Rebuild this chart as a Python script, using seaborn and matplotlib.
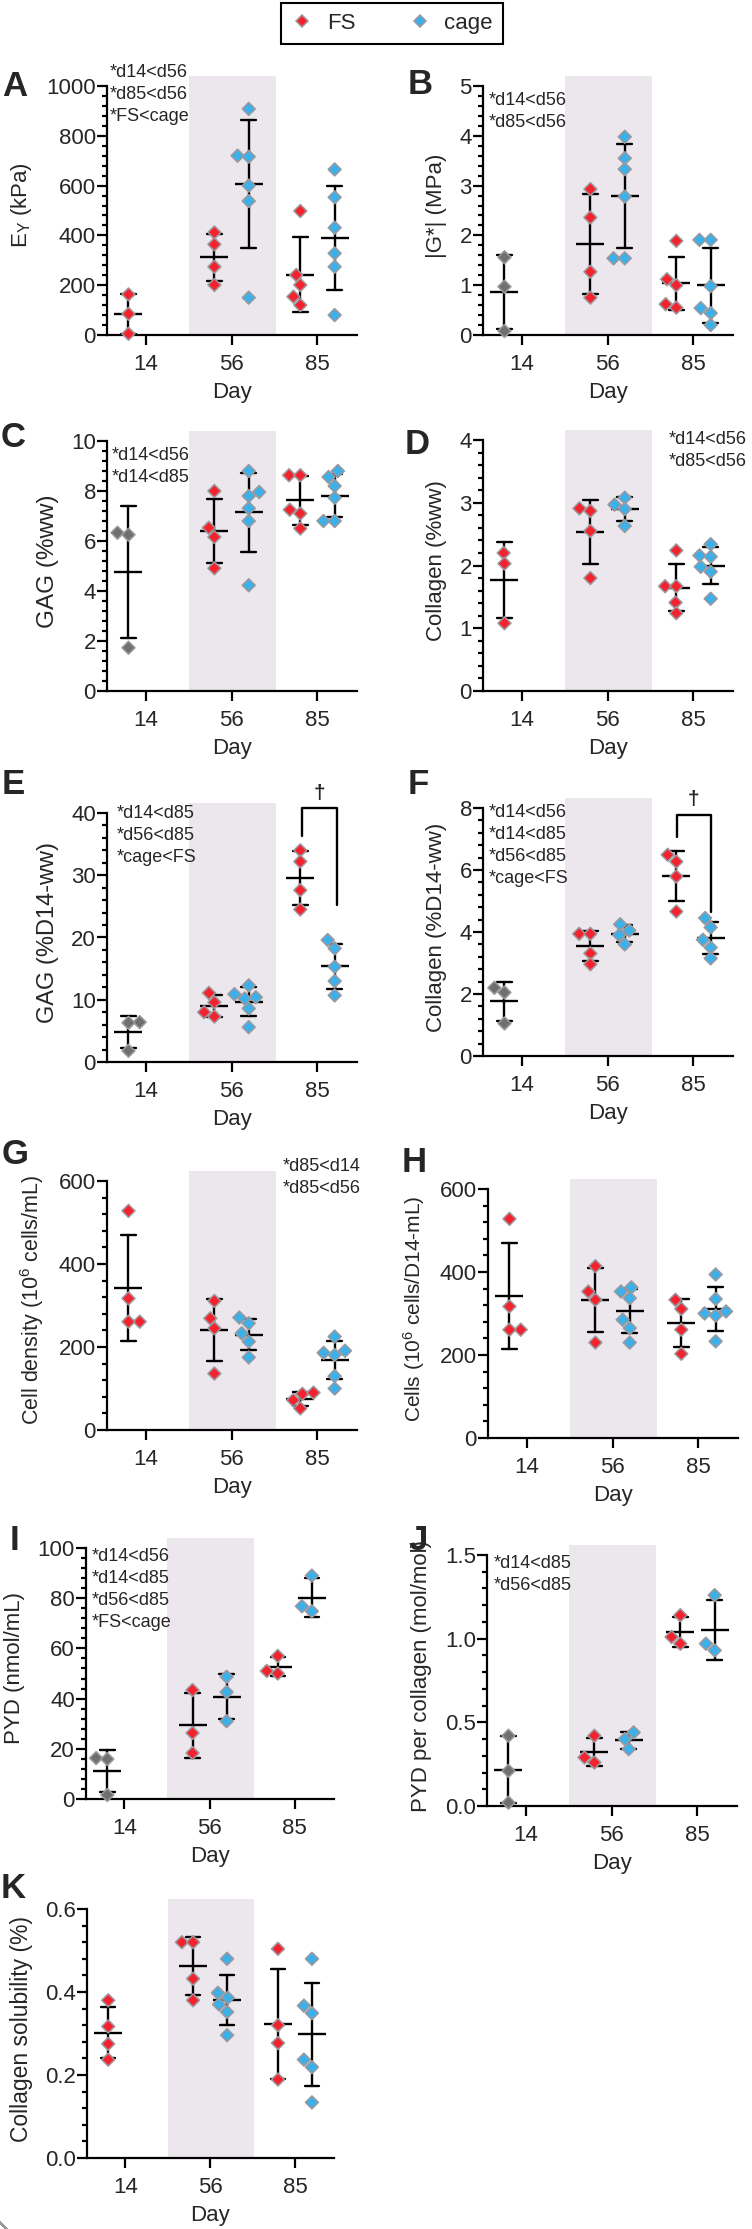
import numpy as np
import pandas as pd
import matplotlib
matplotlib.use("Agg")
import matplotlib.pyplot as plt
import matplotlib.ticker as mticker
from matplotlib.lines import Line2D
import seaborn as sns

# ---- data ----
days = ["14", "56", "85"]
groups = ["FS", "cage"]

# A - E_Y (kPa)
ey_d14 = [5, 163, 85]
ey_fs56 = [412, 364, 274, 201]
ey_cage56 = [908, 720, 716, 600, 538, 150]
ey_fs85 = [498, 241, 201, 154, 120]
ey_cage85 = [665, 553, 431, 328, 274, 80]

# B - |G*| (MPa)
g_d14 = [1.56, 0.97, 0.08]
g_fs56 = [2.93, 2.36, 1.27, 0.75]
g_cage56 = [3.98, 3.55, 3.33, 2.78, 1.54, 1.54]
g_fs85 = [1.89, 1.12, 1.0, 0.62, 0.55]
g_cage85 = [1.91, 1.91, 0.98, 0.54, 0.44, 0.2]

# C - GAG (%ww)
gag_d14 = [6.33, 6.25, 1.73]
gag_fs56 = [8.0, 6.53, 6.16, 4.91]
gag_cage56 = [8.8, 7.96, 7.8, 7.31, 6.8, 4.23]
gag_fs85 = [8.63, 8.63, 7.25, 7.1, 6.5]
gag_cage85 = [8.8, 8.56, 8.2, 7.73, 6.8, 6.8]

# D - Collagen (%ww)
col_d14 = [2.2, 2.03, 1.08]
col_fs56 = [2.87, 2.91, 2.55, 1.8]
col_cage56 = [3.08, 2.97, 2.9, 2.63]
col_fs85 = [2.24, 1.67, 1.67, 1.41, 1.24]
col_cage85 = [2.34, 2.16, 2.14, 1.98, 1.9, 1.47]

# E - GAG (%D14-ww)
gagn_d14 = [6.4, 6.3, 1.8]
gagn_fs56 = [11.1, 9.6, 8.0, 7.3]
gagn_cage56 = [12.3, 10.9, 10.4, 10.2, 8.6, 5.6]
gagn_fs85 = [34.0, 32.2, 27.6, 24.5]
gagn_cage85 = [19.6, 18.25, 15.3, 13.0, 10.7]

# F - Collagen (%D14-ww)
coln_d14 = [2.2, 2.05, 1.05]
coln_fs56 = [3.94, 3.94, 3.31, 2.96]
coln_cage56 = [4.25, 4.05, 3.9, 3.6]
coln_fs85 = [6.49, 6.27, 5.79, 4.66]
coln_cage85 = [4.45, 4.15, 3.75, 3.5, 3.15]

# G - cell density (10^6 cells/mL)
cd_d14 = [528, 317, 261, 261]
cd_fs56 = [311, 269, 245, 136]
cd_cage56 = [271, 257, 233, 213, 175]
cd_fs85 = [87, 90, 72, 52]
cd_cage85 = [225, 191, 186, 181, 130, 100]

# H - cells (10^6 cells/D14-mL)
cn_d14 = [528, 317, 261, 261]
cn_fs56 = [414, 353, 333, 230]
cn_cage56 = [363, 353, 337, 285, 265, 230]
cn_fs85 = [333, 311, 261, 203]
cn_cage85 = [394, 335, 305, 300, 295, 233]

# I - PYD (nmol/mL)
pyd_d14 = [16.3, 15.9, 1.6]
pyd_fs56 = [43.4, 26.3, 18.3]
pyd_cage56 = [48.7, 42.6, 31.0]
pyd_fs85 = [57.0, 51.0, 50.0]
pyd_cage85 = [89.0, 76.8, 74.8]

# J - PYD per collagen (mol/mol)
pc_d14 = [0.42, 0.21, 0.02]
pc_fs56 = [0.42, 0.29, 0.26]
pc_cage56 = [0.44, 0.40, 0.34]
pc_fs85 = [1.14, 1.01, 0.97]
pc_cage85 = [1.26, 0.97, 0.93]

# K - collagen solubility (%)
sol_d14 = [0.38, 0.317, 0.275, 0.237]
sol_fs56 = [0.52, 0.52, 0.432, 0.38]
sol_cage56 = [0.48, 0.398, 0.386, 0.37, 0.352, 0.296]
sol_fs85 = [0.504, 0.32, 0.277, 0.189]
sol_cage85 = [0.48, 0.367, 0.349, 0.237, 0.219, 0.134]

# ---- style ----
sns.set_style("ticks")
plt.rcParams["font.family"] = ["Liberation Sans", "DejaVu Sans"]
plt.rcParams["mathtext.fontset"] = "custom"
plt.rcParams["mathtext.rm"] = "Liberation Sans"
plt.rcParams["mathtext.it"] = "Liberation Sans:italic"
plt.rcParams["mathtext.bf"] = "Liberation Sans:bold"

red = "#f2232f"
blue = "#3cb0e9"
grey = "#6f6f6f"
edge = "#9d989c"
shade = "#ebe7ed"
W, H = 752, 2229


def tidy(d14, fs56, cage56, fs85, cage85):
    parts = [("14", "FS", d14), ("56", "FS", fs56), ("56", "cage", cage56),
             ("85", "FS", fs85), ("85", "cage", cage85)]
    rows = [(d, g, v) for d, g, vals in parts for v in vals]
    return pd.DataFrame(rows, columns=["day", "group", "value"])


panels = [
    dict(letter="A", df=tidy(ey_d14, ey_fs56, ey_cage56, ey_fs85, ey_cage85),
         ylabel=r"E$_\mathregular{Y}$ (kPa)", ymax=1000, major=200, minor=40, fmt="%d", c14=red,
         box=(107, 357, 86, 335), tag=(2, 87), note="*d14<d56\n*d85<d56\n*FS<cage", note_at=(110, 64), ysize=16),
    dict(letter="B", df=tidy(g_d14, g_fs56, g_cage56, g_fs85, g_cage85),
         ylabel="|G*| (MPa)", ymax=5, major=1, minor=0.2, fmt="%d", c14=grey,
         box=(483, 733, 86, 335), tag=(408, 85), note="*d14<d56\n*d85<d56", note_at=(489, 92), ysize=16),
    dict(letter="C", df=tidy(gag_d14, gag_fs56, gag_cage56, gag_fs85, gag_cage85),
         ylabel="GAG (%ww)", ymax=10, major=2, minor=0.4, fmt="%d", c14=grey,
         box=(107, 357, 441, 691), tag=(1, 437), note="*d14<d56\n*d14<d85", note_at=(112, 447), ysize=17.5),
    dict(letter="D", df=tidy(col_d14, col_fs56, col_cage56, col_fs85, col_cage85),
         ylabel="Collagen (%ww)", ymax=4, major=1, minor=0.2, fmt="%d", c14=red,
         box=(483, 733, 440, 691), tag=(405, 445), note="*d14<d56\n*d85<d56", note_at=(669, 431), ysize=16),
    dict(letter="E", df=tidy(gagn_d14, gagn_fs56, gagn_cage56, gagn_fs85, gagn_cage85),
         ylabel="GAG (%D14-ww)", ymax=40, major=10, minor=2, fmt="%d", c14=grey,
         box=(107, 357, 813, 1062), tag=(2, 785), note="*d14<d85\n*d56<d85\n*cage<FS", note_at=(117, 805), ysize=17,
         bracket=((1.82, 2.23), (36.3, 40.8, 25.2)), dagger=43.2),
    dict(letter="F", df=tidy(coln_d14, coln_fs56, coln_cage56, coln_fs85, coln_cage85),
         ylabel="Collagen (%D14-ww)", ymax=8, major=2, minor=0.4, fmt="%d", c14=grey,
         box=(483, 733, 808, 1056), tag=(408, 784), note="*d14<d56\n*d14<d85\n*d56<d85\n*cage<FS",
         note_at=(489, 804), ysize=16, bracket=((1.81, 2.2), (7.08, 7.78, 4.65)), dagger=8.27),
    dict(letter="G", df=tidy(cd_d14, cd_fs56, cd_cage56, cd_fs85, cd_cage85),
         ylabel=r"Cell density (10$^\mathregular{6}$ cells/mL)", ymax=600, major=200, minor=40, fmt="%d", c14=red,
         box=(107, 357, 1181, 1430), tag=(2, 1155), note="*d85<d14\n*d85<d56", note_at=(283, 1158), ysize=15.5),
    dict(letter="H", df=tidy(cn_d14, cn_fs56, cn_cage56, cn_fs85, cn_cage85),
         ylabel=r"Cells (10$^\mathregular{6}$ cells/D14-mL)", ymax=600, major=200, minor=40, fmt="%d", c14=red,
         box=(488, 738, 1189, 1438), tag=(402, 1162), note=None, note_at=None, ysize=15),
    dict(letter="I", df=tidy(pyd_d14, pyd_fs56, pyd_cage56, pyd_fs85, pyd_cage85),
         ylabel="PYD (nmol/mL)", ymax=100, major=20, minor=4, fmt="%d", c14=grey,
         box=(86, 334, 1548, 1799), tag=(10, 1540), note="*d14<d56\n*d14<d85\n*d56<d85\n*FS<cage",
         note_at=(92, 1548), ysize=16),
    dict(letter="J", df=tidy(pc_d14, pc_fs56, pc_cage56, pc_fs85, pc_cage85),
         ylabel="PYD per collagen (mol/mol)", ymax=1.5, major=0.5, minor=0.1, fmt="%.1f", c14=grey,
         box=(487, 737, 1555, 1806), tag=(408, 1540), note="*d14<d85\n*d56<d85", note_at=(494, 1555), ysize=16),
    dict(letter="K", df=tidy(sol_d14, sol_fs56, sol_cage56, sol_fs85, sol_cage85),
         ylabel="Collagen solubility (%)", ymax=0.6, major=0.2, minor=0.04, fmt="%.1f", c14=red,
         box=(87, 334, 1909, 2158), tag=(1, 1888), note=None, note_at=None, ysize=16.5),
]

fig = plt.figure(figsize=(W / 100, H / 100), dpi=100)

for p in panels:
    L, R, top, bottom = p["box"]
    ax = fig.add_axes([L / W, 1 - bottom / H, (R - L) / W, (bottom - top + 10) / H])
    ax.axvspan(0.5, 1.52, color=shade, lw=0, zorder=0)

    df = p["df"]
    kw = dict(x="day", y="value", hue="group", order=days, hue_order=groups, dodge=True,
              marker="D", size=6.6, edgecolor=edge, linewidth=1.1, legend=False, ax=ax, clip_on=False)
    sns.swarmplot(data=df[df["day"] == "14"], palette={"FS": p["c14"], "cage": p["c14"]}, **kw)
    sns.swarmplot(data=df[df["day"] != "14"], palette={"FS": red, "cage": blue}, **kw)

    # mean +/- SD
    sns.pointplot(data=df, x="day", y="value", hue="group", order=days, hue_order=groups,
                  palette={"FS": "black", "cage": "black"}, dodge=0.4, errorbar="sd", capsize=0.17,
                  markers="_", linestyles="none", markersize=20, markeredgewidth=1.7, linewidth=1.7,
                  err_kws={"linewidth": 1.7}, legend=False, ax=ax)

    ymax = p["ymax"]
    ax.set_xlim(-0.45, 2.46)
    ax.set_ylim(0, ymax * (bottom - top + 10) / (bottom - top))
    ax.set_yticks(np.linspace(0, ymax, round(ymax / p["major"]) + 1))
    ax.set_yticks(np.linspace(0, ymax, round(ymax / p["minor"]) + 1), minor=True)
    ax.yaxis.set_major_formatter(mticker.FormatStrFormatter(p["fmt"]))
    ax.set_xticks(range(3), days)
    sns.despine(ax=ax)
    ax.spines["left"].set_bounds(0, ymax)
    for s in ("left", "bottom"):
        ax.spines[s].set_linewidth(1.6)
        ax.spines[s].set_color("black")
    ax.tick_params(which="major", length=7, width=1.6, labelsize=16, color="black")
    ax.tick_params(which="minor", length=3.6, width=1.6, color="black")
    ax.tick_params(axis="y", pad=1)
    ax.tick_params(axis="x", pad=7)
    ax.set_xlabel("Day", fontsize=16, labelpad=5)
    ax.set_ylabel(p["ylabel"], fontsize=p["ysize"], labelpad=9)

    if "bracket" in p:
        (x1, x2), (yl, yt, yr) = p["bracket"]
        ax.plot([x1, x1, x2, x2], [yl, yt, yt, yr], color="black", lw=1.7, clip_on=False)
        ax.text((x1 + x2) / 2, p["dagger"], "\u2020", ha="center", va="center",
                fontsize=15, fontweight="bold", clip_on=False)

    if p["note"]:
        nx, ny = p["note_at"]
        fig.text(nx / W, 1 - ny / H, p["note"], ha="left", va="top", fontsize=13, linespacing=1.38)
    tx, ty = p["tag"]
    fig.text(tx / W, 1 - ty / H, p["letter"], ha="left", va="center", fontsize=25, fontweight="bold")

handles = [Line2D([], [], marker="D", ls="", markersize=6.6, markerfacecolor=c,
                  markeredgecolor=edge, markeredgewidth=1.1) for c in (red, blue)]
leg = fig.legend(handles, groups, loc="upper center", bbox_to_anchor=(392 / W, 1 - 3 / H), ncol=2,
                 fontsize=16, frameon=True, fancybox=False, edgecolor="black", framealpha=1,
                 handlelength=1.0, handletextpad=0.6, columnspacing=2.4, borderpad=0.45, borderaxespad=0)
leg.get_frame().set_linewidth(1.5)

fig.savefig("out.png", dpi=100)
